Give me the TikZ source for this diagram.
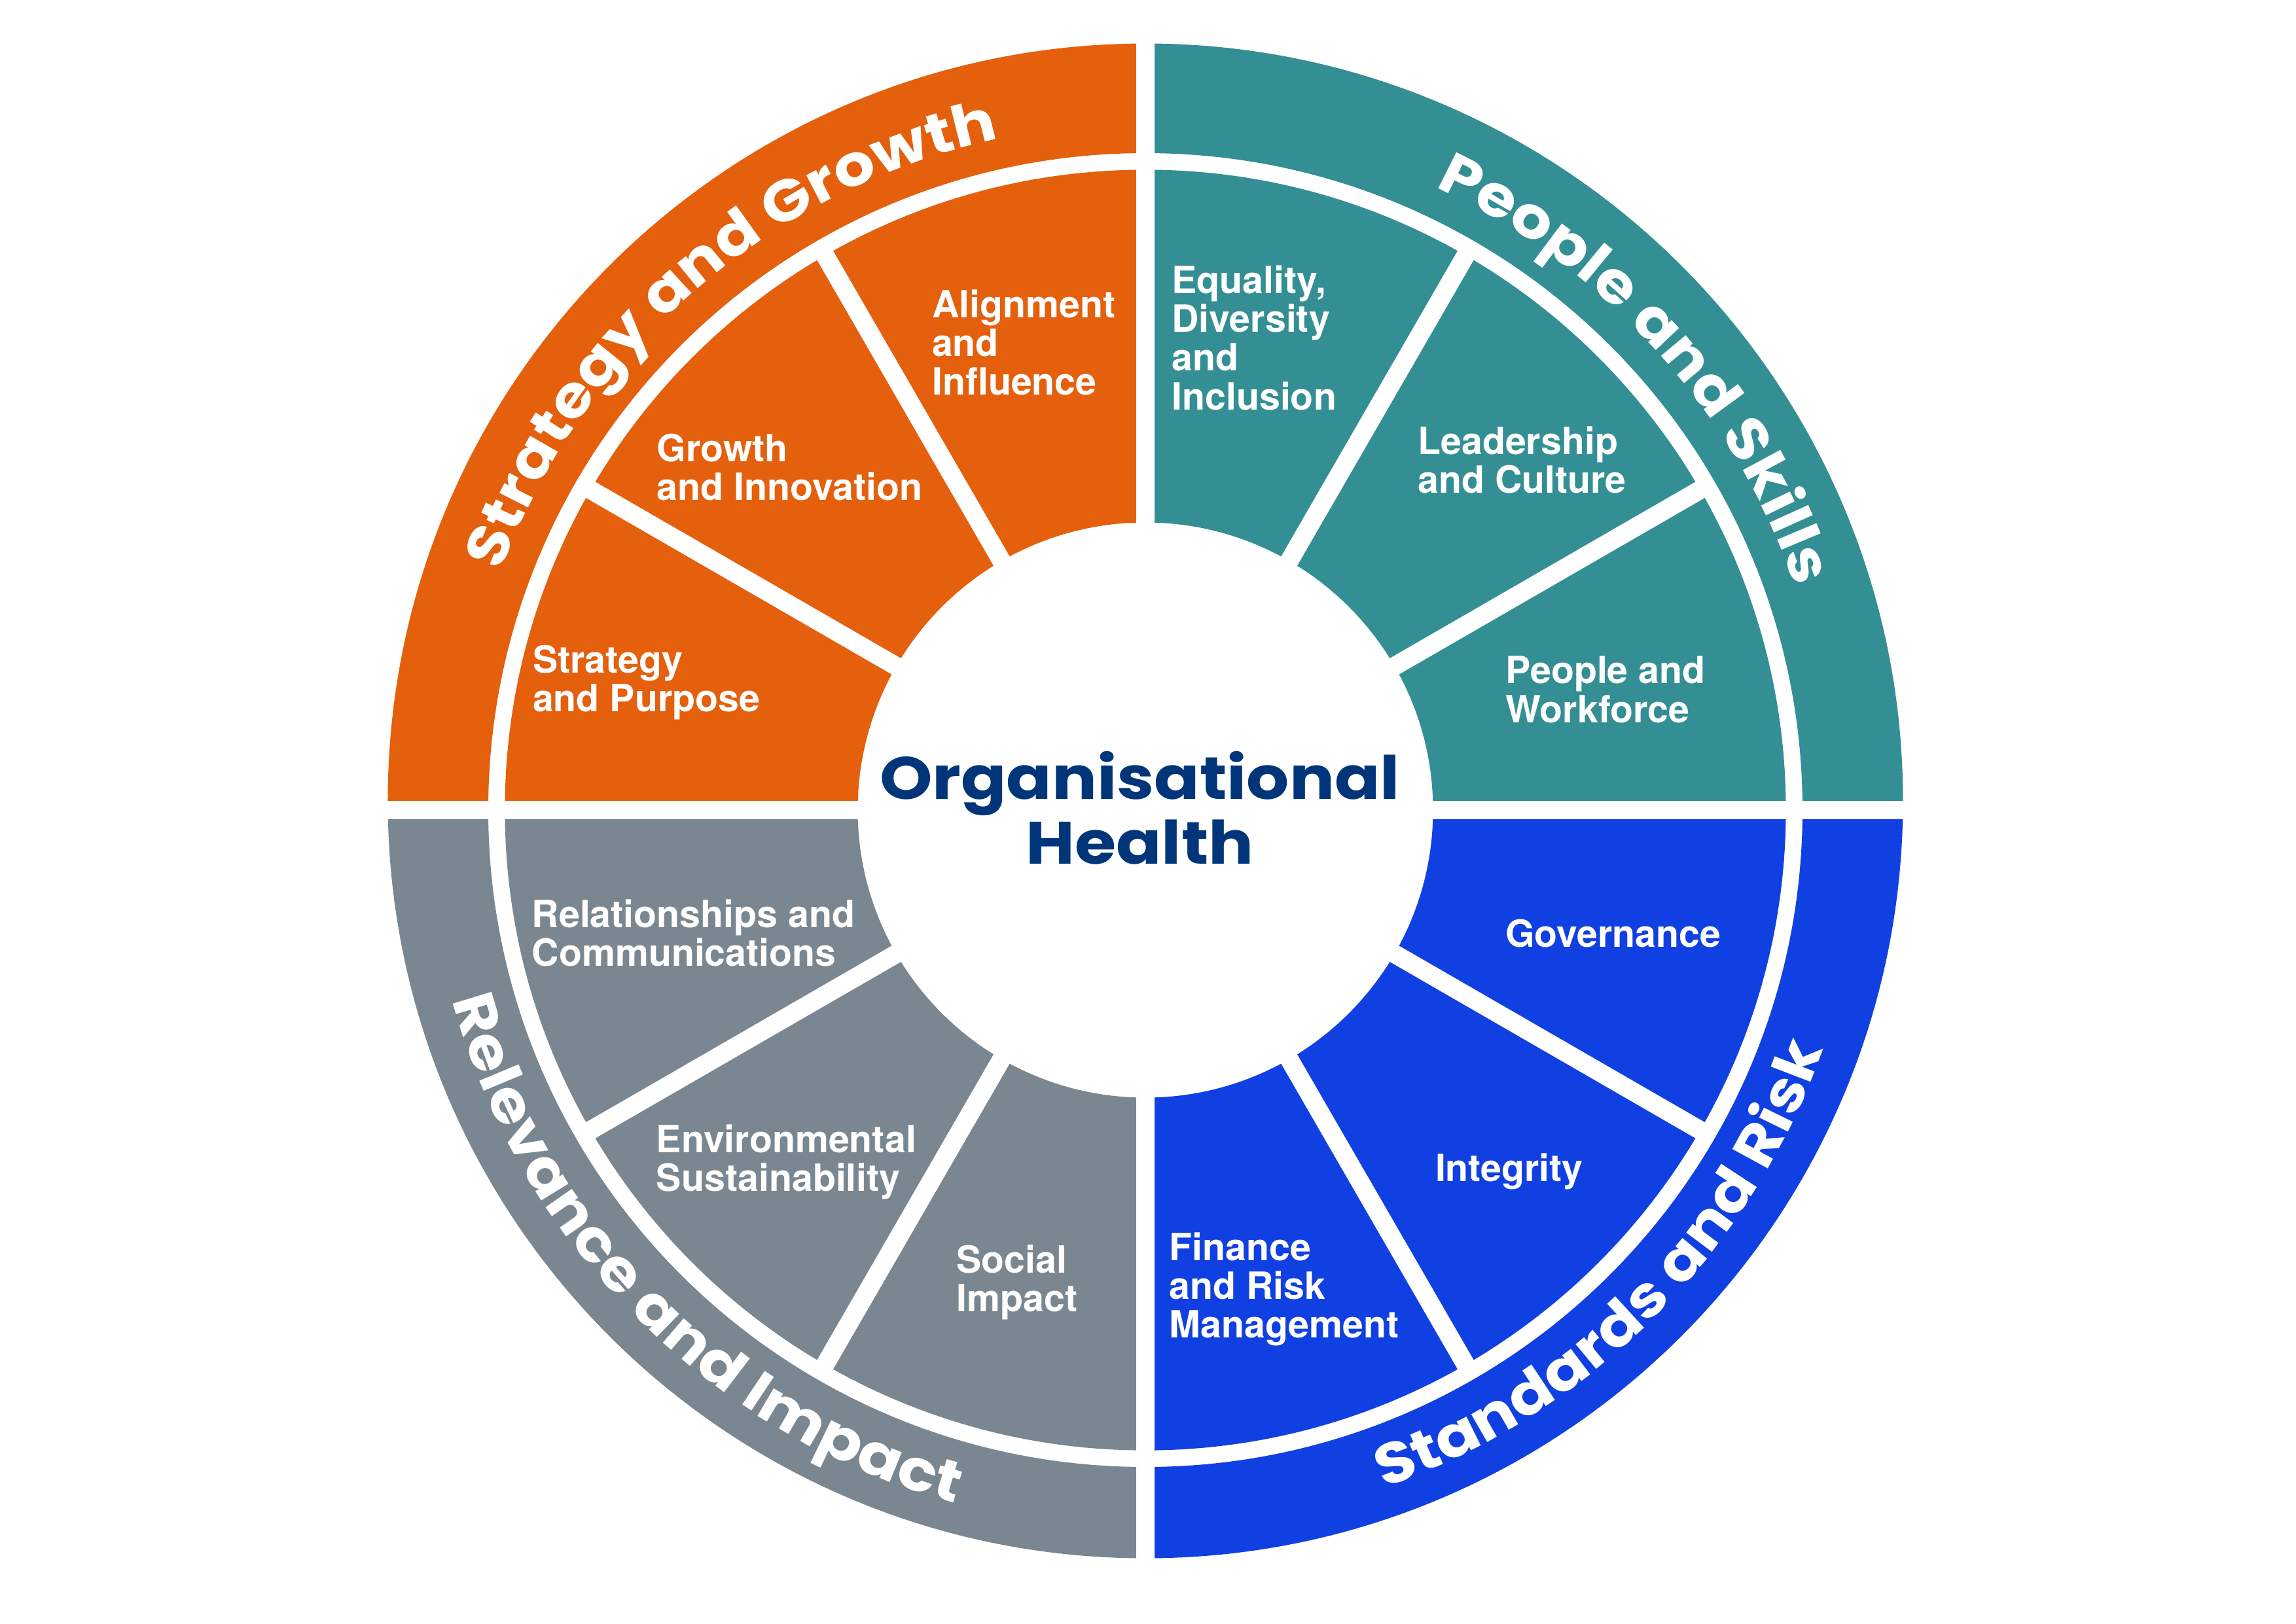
\documentclass[tikz,border=0pt]{standalone}
\usepackage{fontspec}
\usetikzlibrary{decorations.text}
\newfontfamily\labfont{TeX Gyre Heros}
\newfontfamily\headfont{Poppins}[FakeStretch=1.12]
\newcommand{\ringfont}{\headfont\bfseries\fontsize{25}{25}\selectfont}
\definecolor{grwc}{RGB}{228,96,13}
\definecolor{pplc}{RGB}{51,143,148}
\definecolor{stdc}{RGB}{17,64,226}
\definecolor{relc}{RGB}{122,135,145}
\definecolor{navy}{RGB}{0,54,121}
\tikzset{
  % white text inside the wedges
  lab/.style={anchor=north west, inner sep=0pt, align=left, text=white,
              font=\labfont\bfseries\fontsize{16.3}{16.8}\selectfont},
  % white separators
  gap/.style={draw=white, line width=0.283cm},
  % curved titles on the outer ring
  ring/.style={decorate, decoration={text along path, text align=center,
               text color=white, text={|\ringfont|#1}}}
}
\begin{document}
\begin{tikzpicture}
  \useasboundingbox (-17.50,-12.43) rectangle (17.58,12.38);

  % outer ring (its circle sits a little higher)
  \fill[grwc] (0,0.14) ++(90:11.575) arc[start angle=90, end angle=180, radius=11.575]
    -- (180:10.04) arc[start angle=180, end angle=90, radius=10.04] -- cycle;
  \fill[pplc] (0,0.14) ++(0:11.575) arc[start angle=0, end angle=90, radius=11.575]
    -- (90:10.04) arc[start angle=90, end angle=0, radius=10.04] -- cycle;
  \fill[stdc] (0,0.14) ++(270:11.575) arc[start angle=270, end angle=360, radius=11.575]
    -- (0:10.04) arc[start angle=360, end angle=270, radius=10.04] -- cycle;
  \fill[relc] (0,0.14) ++(180:11.575) arc[start angle=180, end angle=270, radius=11.575]
    -- (270:10.04) arc[start angle=270, end angle=180, radius=10.04] -- cycle;

  % inner wedges
  \fill[grwc] (90:9.786) arc[start angle=90, end angle=180, radius=9.786]
    -- (180:4.395) arc[start angle=180, end angle=90, radius=4.395] -- cycle;
  \fill[pplc] (0:9.786) arc[start angle=0, end angle=90, radius=9.786]
    -- (90:4.395) arc[start angle=90, end angle=0, radius=4.395] -- cycle;
  \fill[stdc] (270:9.786) arc[start angle=270, end angle=360, radius=9.786]
    -- (0:4.395) arc[start angle=360, end angle=270, radius=4.395] -- cycle;
  \fill[relc] (180:9.786) arc[start angle=180, end angle=270, radius=9.786]
    -- (270:4.395) arc[start angle=270, end angle=180, radius=4.395] -- cycle;

  \foreach \a in {30,60,120,150,210,240,300,330}
    \draw[gap] (0,0) -- (\a:9.95);
  \foreach \a in {0,90,180,270}
    \draw[gap] (0,0) -- (\a:12);

  % curved titles
  \path[ring={Strategy and Growth}] (176:10.5) arc[start angle=176, end angle=86, radius=10.5];
  \path[ring={People and Skills}] (87:10.5) arc[start angle=87, end angle=-3, radius=10.5];
  \path[ring={Relevance and Impact}] (180:10.98) arc[start angle=180, end angle=270, radius=10.98];
  \path[ring={Standards and Risk}] (270:10.98) arc[start angle=270, end angle=360, radius=10.98];

  % Strategy and Growth
  \node[lab] (aln) at (-3.266,7.957) {Alignment\\and\\Influence};
  \node[lab] (gin) at (-7.468,5.755) {Growth\\and Innovation};
  \node[lab] (spu) at (-9.366,2.526) {Strategy\\and Purpose};

  % People and Skills
  \node[lab] (edi) at (0.398,8.325) {Equality,\\Diversity\\and\\Inclusion};
  \node[lab] (lcu) at (4.156,5.868) {Leadership\\and Culture};
  \node[lab] (pwf) at (5.498,2.355) {People and\\Workforce};

  % Standards and Risk
  \node[lab] (gov) at (5.495,-1.665) {Governance};
  \node[lab] (itg) at (4.423,-5.239) {Integrity};
  \node[lab] (frm) at (0.36,-6.448) {Finance\\and Risk\\Management};

  % Relevance and Impact
  \node[lab] (rco) at (-9.379,-1.359) {Relationships and\\Communications};
  \node[lab] (esu) at (-7.477,-4.804) {Environmental\\Sustainability};
  \node[lab] (sim) at (-2.891,-6.638) {Social\\Impact};

  % centre
  \node[font=\headfont\bfseries\fontsize{26}{28.2}\selectfont, text=navy, align=center,
        inner sep=0pt] (hlth) at (-0.085,0.03) {Organisational\\Health};
\end{tikzpicture}
\end{document}
